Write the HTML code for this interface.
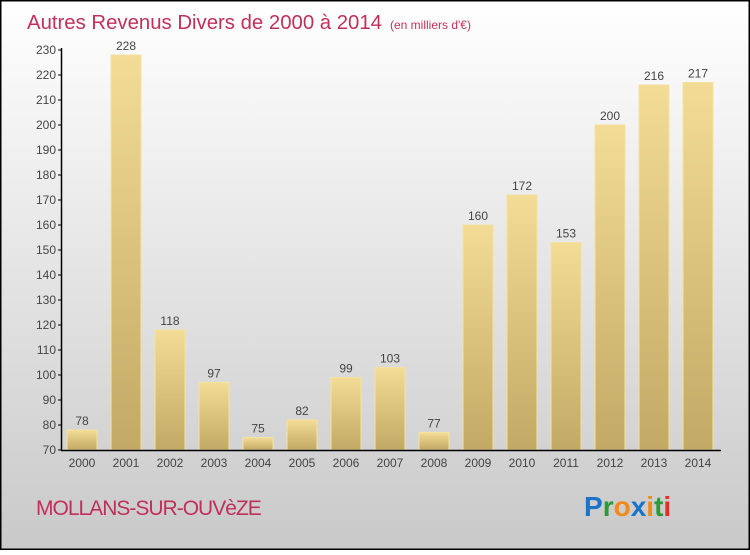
<!DOCTYPE html>
<html><head><meta charset="utf-8"><style>
body{margin:0}
#c{width:750px;height:550px;position:relative;font-family:"Liberation Sans",sans-serif}
</style></head><body>
<div id="c">
<svg width="750" height="550" xmlns="http://www.w3.org/2000/svg">
<defs>
<linearGradient id="bg" x1="0" y1="0" x2="0" y2="1"><stop offset="0" stop-color="#ffffff"/><stop offset="1" stop-color="#c9c9c9"/></linearGradient>
<linearGradient id="bar" x1="0" y1="0" x2="0" y2="1"><stop offset="0" stop-color="#f3dc95"/><stop offset="1" stop-color="#c2a965"/></linearGradient>
</defs>
<rect x="0.5" y="0.5" width="749" height="549" fill="url(#bg)" stroke="#000" stroke-width="2"/>
<text x="27" y="29" font-size="20" fill="#c0305c" textLength="355" lengthAdjust="spacingAndGlyphs">Autres Revenus Divers de 2000 à 2014</text>
<text x="390" y="29" font-size="12" fill="#c0305c">(en milliers d'€)</text>
<g id="plot"></g>
<text x="36" y="515" font-size="21" fill="#c0305c" letter-spacing="-1">MOLLANS-SUR-OUVèZE</text>
<g font-size="28" font-weight="bold" font-family="Liberation Sans, sans-serif">
<text x="584" y="516"><tspan fill="#1a73c8">P</tspan><tspan fill="#2a9a3a">r</tspan><tspan fill="#f08a1c">o</tspan><tspan fill="#1a73c8">x</tspan><tspan fill="#f08a1c">i</tspan><tspan fill="#2a9a3a">t</tspan><tspan fill="#e03020">i</tspan></text>
</g>
</svg>
</div>
<script>
const years=["2000","2001","2002","2003","2004","2005","2006","2007","2008","2009","2010","2011","2012","2013","2014"];
const values=[78,228,118,97,75,82,99,103,77,160,172,153,200,216,217];
const yTicks=[70,80,90,100,110,120,130,140,150,160,170,180,190,200,210,220,230];
const NS="http://www.w3.org/2000/svg";
const g=document.getElementById('plot');
const y=v=>450-(v-70)*2.5;
const x=i=>82+44*i;
function mk(t,a,txt){const e=document.createElementNS(NS,t);for(const k in a)e.setAttribute(k,a[k]);if(txt!==undefined)e.textContent=txt;g.appendChild(e);return e;}
values.forEach((v,i)=>{
 const r=mk('rect',{x:x(i)-15,y:y(v),width:30,height:450-y(v),fill:'url(#bar)',stroke:'#f5e2a0','stroke-width':1});
 
 
 const t=mk('text',{x:x(i),y:y(v)-5,'text-anchor':'middle','font-size':12,fill:'#444'},v);
 
 
 const l=mk('text',{x:x(i),y:467,'text-anchor':'middle','font-size':12,fill:'#444'},years[i]);
 
 
});
yTicks.forEach(v=>{
 const tk=mk('line',{x1:58,x2:62,y1:y(v),y2:y(v),stroke:'#000'});
 
 
 const t=mk('text',{x:56,y:y(v)+4,'text-anchor':'end','font-size':12,fill:'#444'},v);
 
 
});
const ya=mk('line',{x1:61.5,x2:61.5,y1:48,y2:450,stroke:'#000','stroke-width':1.5});


const xa=mk('line',{x1:61,x2:721,y1:450.5,y2:450.5,stroke:'#000','stroke-width':1.5});


</script>
</body></html>
